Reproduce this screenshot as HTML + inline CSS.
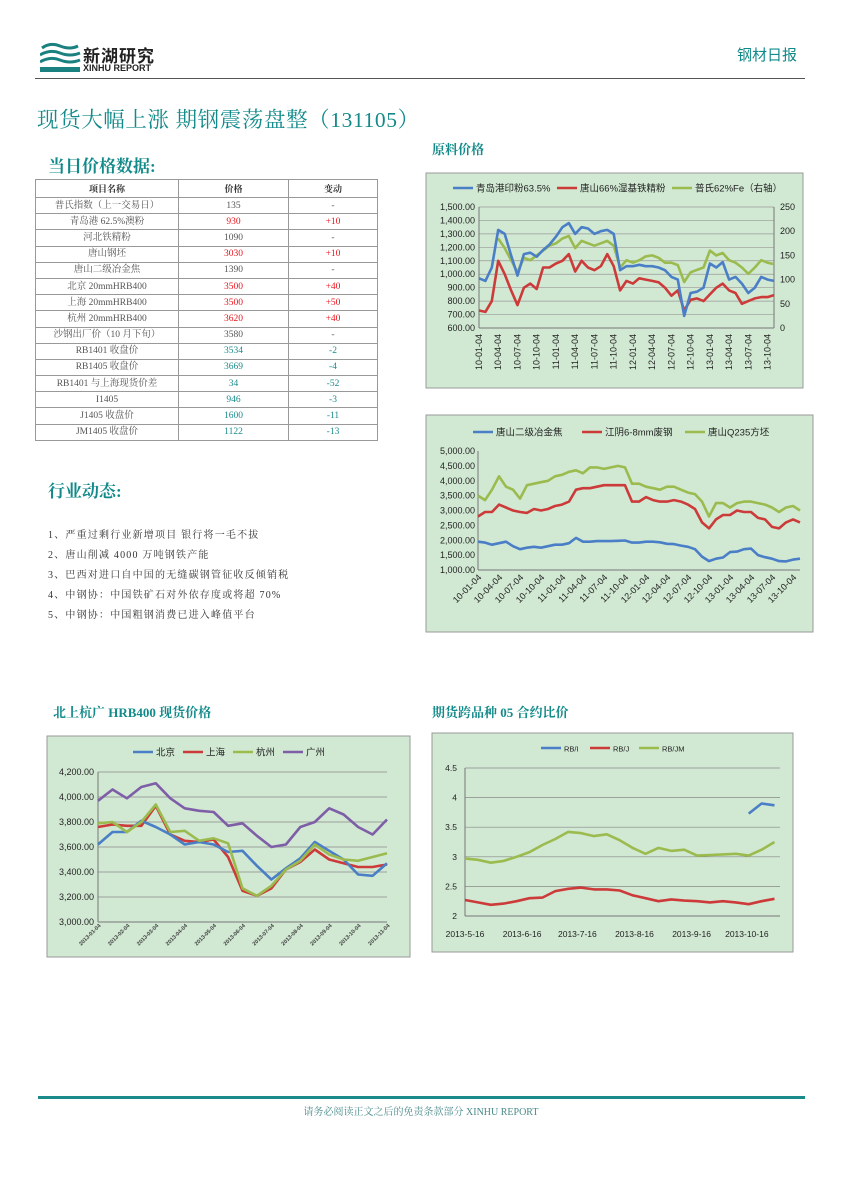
<!DOCTYPE html>
<html><head><meta charset="utf-8">
<style>
body{margin:0;background:#fff;}
#pg{position:relative;width:842px;height:1191px;overflow:hidden;font-family:"Liberation Serif","Noto Serif CJK SC",serif;}
.abs{position:absolute;white-space:nowrap;}
.teal{color:#138a8a;}
table{border-collapse:collapse;position:absolute;left:35px;top:179px;width:343px;font-size:9.5px;}
td{border:1px solid #999;height:15.2px;padding:0;text-align:center;color:#555;line-height:14px;}
td.r{color:#e8141c;} td.g{color:#1a8c8c;}
th{border:1px solid #999;height:15px;font-size:9px;font-weight:bold;color:#333;}
.lst{font-size:10px;letter-spacing:1.2px;color:#333;left:48px;}
</style></head><body>
<div id="pg">
<div class="abs" style="left:40px;top:40px;width:125px;height:36px;">
 <svg width="125" height="36">
  <path d="M2 8 Q10 2 20 6 T38 6" stroke="#1a8080" stroke-width="3" fill="none"/>
  <path d="M0 15 Q10 9 20 13 T40 13" stroke="#1a8080" stroke-width="3" fill="none"/>
  <path d="M0 22 Q10 16 20 20 T40 20" stroke="#1a8080" stroke-width="3" fill="none"/>
  <rect x="0" y="27" width="40" height="5" fill="#1a8080"/>
 </svg>
 <div class="abs" style="left:43px;top:2px;font:bold 17px 'Liberation Sans','Noto Sans CJK SC',sans-serif;color:#222;letter-spacing:1px;">新湖研究</div>
 <div class="abs" style="left:43px;top:23px;font:bold 9px 'Liberation Sans',sans-serif;color:#222;">XINHU REPORT</div>
</div>
<div class="abs teal" style="left:737px;top:44px;font-size:15px;font-family:'Noto Sans CJK SC',sans-serif;">钢材日报</div>
<div class="abs" style="left:35px;top:78px;width:770px;height:1px;background:#555;"></div>
<div class="abs teal" style="left:37px;top:103px;font-size:21.5px;letter-spacing:0.6px;">现货大幅上涨 期钢震荡盘整（131105）</div>
<div class="abs teal" style="left:48px;top:152px;font-size:17px;font-weight:bold;">当日价格数据:</div>
<table>
<tr><th style="width:140px">项目名称</th><th style="width:107px">价格</th><th>变动</th></tr>
<tr><td>普氏指数（上一交易日）</td><td>135</td><td>-</td></tr>
<tr><td>青岛港 62.5%澳粉</td><td class="r">930</td><td class="r">+10</td></tr>
<tr><td>河北铁精粉</td><td>1090</td><td>-</td></tr>
<tr><td>唐山钢坯</td><td class="r">3030</td><td class="r">+10</td></tr>
<tr><td>唐山二级冶金焦</td><td>1390</td><td>-</td></tr>
<tr><td>北京 20mmHRB400</td><td class="r">3500</td><td class="r">+40</td></tr>
<tr><td>上海 20mmHRB400</td><td class="r">3500</td><td class="r">+50</td></tr>
<tr><td>杭州 20mmHRB400</td><td class="r">3620</td><td class="r">+40</td></tr>
<tr><td>沙钢出厂价（10 月下旬）</td><td>3580</td><td>-</td></tr>
<tr><td>RB1401 收盘价</td><td class="g">3534</td><td class="g">-2</td></tr>
<tr><td>RB1405 收盘价</td><td class="g">3669</td><td class="g">-4</td></tr>
<tr><td>RB1401 与上海现货价差</td><td class="g">34</td><td class="g">-52</td></tr>
<tr><td>I1405</td><td class="g">946</td><td class="g">-3</td></tr>
<tr><td>J1405 收盘价</td><td class="g">1600</td><td class="g">-11</td></tr>
<tr><td>JM1405 收盘价</td><td class="g">1122</td><td class="g">-13</td></tr>
</table>
<div class="abs teal" style="left:48px;top:477px;font-size:17px;font-weight:bold;">行业动态:</div>
<div class="abs lst" style="top:526px;">1、严重过剩行业新增项目 银行将一毛不拔</div>
<div class="abs lst" style="top:546px;">2、唐山削减 4000 万吨钢铁产能</div>
<div class="abs lst" style="top:566px;">3、巴西对进口自中国的无缝碳钢管征收反倾销税</div>
<div class="abs lst" style="top:586px;">4、中钢协：中国铁矿石对外依存度或将超 70%</div>
<div class="abs lst" style="top:606px;">5、中钢协：中国粗钢消费已进入峰值平台</div>
<div class="abs teal" style="left:432px;top:139px;font-size:13px;font-weight:bold;">原料价格</div>
<div class="abs teal" style="left:53px;top:702px;font-size:13px;font-weight:bold;">北上杭广 HRB400 现货价格</div>
<div class="abs teal" style="left:432px;top:702px;font-size:13px;font-weight:bold;">期货跨品种 05 合约比价</div>
<div class="abs" style="left:38px;top:1096px;width:767px;height:3px;background:#1a8a8a;"></div>
<div class="abs" style="left:0;width:842px;text-align:center;top:1103px;font-size:10px;color:#4a8a8a;">请务必阅读正文之后的免责条款部分 XINHU REPORT</div>
<svg id="ch" class="abs" style="left:0;top:0" width="842" height="1191"></svg>
</div>
<script>
const c1Labels=["10-01-04","10-04-04","10-07-04","10-10-04","11-01-04","11-04-04","11-07-04","11-10-04","12-01-04","12-04-04","12-07-04","12-10-04","13-01-04","13-04-04","13-07-04","13-10-04"];
const c1Ticks=[600,700,800,900,1000,1100,1200,1300,1400,1500];
const c1RTicks=[0,50,100,150,200,250];
const c1Qingdao=[970,950,1050,1330,1300,1140,990,1150,1160,1130,1180,1220,1280,1350,1380,1300,1350,1340,1300,1320,1330,1300,1030,1060,1060,1070,1060,1060,1050,1030,980,960,690,860,870,900,1080,1050,1090,960,980,930,860,900,980,960,950];
const c1Tangshan=[730,720,800,1100,1000,880,770,900,930,890,1050,1050,1080,1100,1150,1020,1100,1050,1030,1060,1150,1060,880,950,930,970,960,950,940,900,840,880,730,810,820,800,850,900,930,880,860,780,800,820,830,830,845];
const c1Platts=[null,null,null,185,165,140,115,145,140,150,160,170,175,185,190,165,180,175,170,175,180,170,125,140,135,140,148,150,145,135,135,130,95,115,120,125,160,150,155,140,135,125,112,125,140,135,132];
const c2Labels=c1Labels;
const c2Ticks=[1000,1500,2000,2500,3000,3500,4000,4500,5000];
const c2Coke=[1950,1920,1850,1900,1950,1800,1700,1750,1780,1750,1800,1850,1850,1900,2080,1950,1950,1970,1970,1970,1980,1990,1920,1920,1950,1950,1930,1880,1870,1820,1780,1700,1450,1300,1380,1420,1600,1620,1700,1720,1500,1430,1380,1300,1290,1350,1380];
const c2Scrap=[2800,2950,2950,3200,3100,3000,2950,2920,3050,3000,3050,3150,3200,3300,3700,3750,3750,3800,3850,3850,3850,3850,3300,3300,3450,3350,3300,3300,3350,3300,3200,3050,2600,2400,2700,2850,2850,3000,2950,2950,2750,2700,2450,2400,2600,2700,2600];
const c2Billet=[3500,3350,3700,4150,3800,3700,3400,3850,3900,3950,4000,4150,4200,4300,4350,4250,4450,4450,4400,4450,4500,4450,3900,3900,3800,3750,3700,3800,3800,3700,3600,3550,3300,2800,3250,3250,3100,3250,3300,3300,3250,3200,3100,2950,3100,3150,3000];
const c3Labels=["2013-01-04","2013-02-04","2013-03-04","2013-04-04","2013-05-04","2013-06-04","2013-07-04","2013-08-04","2013-09-04","2013-10-04","2013-11-04"];
const c3Ticks=[3000,3200,3400,3600,3800,4000,4200];
const c3Beijing=[3620,3720,3720,3810,3760,3700,3620,3640,3620,3560,3570,3450,3340,3430,3510,3640,3570,3500,3380,3370,3470];
const c3Shanghai=[3760,3780,3770,3770,3930,3700,3650,3640,3660,3520,3250,3210,3270,3420,3480,3580,3500,3470,3440,3440,3460];
const c3Hangzhou=[3790,3800,3720,3800,3940,3720,3730,3650,3670,3630,3270,3210,3290,3420,3490,3620,3540,3500,3490,3520,3550];
const c3Guangzhou=[3970,4060,3990,4080,4110,3990,3910,3890,3880,3770,3790,3690,3600,3620,3760,3800,3910,3860,3760,3700,3820];
const c4Labels=["2013-5-16","2013-6-16","2013-7-16","2013-8-16","2013-9-16","2013-10-16"];
const c4LabelDays=[0,31,61,92,123,153];
const c4Ticks=[2,2.5,3,3.5,4,4.5];
const c4RBI=[null,null,null,null,null,null,null,null,null,null,null,null,null,null,null,null,null,null,null,null,null,null,3.73,3.90,3.87];
const c4RBJ=[2.27,2.23,2.19,2.21,2.25,2.30,2.31,2.42,2.46,2.48,2.45,2.45,2.43,2.35,2.30,2.25,2.28,2.26,2.25,2.23,2.25,2.23,2.20,2.25,2.29];
const c4RBJM=[2.97,2.95,2.90,2.93,3.00,3.08,3.20,3.30,3.42,3.40,3.35,3.38,3.28,3.15,3.05,3.15,3.10,3.12,3.02,3.03,3.04,3.05,3.02,3.12,3.25];

const NS="http://www.w3.org/2000/svg";
const svg=document.getElementById('ch');
function mk(tag,at,parent){const e=document.createElementNS(NS,tag);for(const k in at)e.setAttribute(k,at[k]);(parent||svg).appendChild(e);return e;}
function txt(x,y,s,at){const t=mk('text',Object.assign({x:x,y:y,'font-family':"'Liberation Sans','Noto Sans CJK SC',sans-serif",'font-size':9,fill:'#222'},at||{}));t.textContent=s;return t;}
function path(vals,xf,yf,color,w){let d='',pen=false;vals.forEach((v,i)=>{if(v==null){pen=false;return;}d+=(pen?'L':'M')+xf(i).toFixed(1)+' '+yf(v).toFixed(1)+' ';pen=true;});return mk('path',{d:d,stroke:color,'stroke-width':w||2.6,fill:'none','stroke-linejoin':'round'});}
function fmt(v){return v.toLocaleString('en-US',{minimumFractionDigits:2,maximumFractionDigits:2});}
function legend(items,y){items.forEach(it=>{const l=mk('line',{x1:it.x,y1:y,x2:it.x+20,y2:y,stroke:it.c,'stroke-width':2.5});const t=txt(it.x+23,y+3.5,it.t,{'font-size':it.fs||9.5});});}
const BLUE='#4a7ec6',RED='#cc3b3a',GRN='#9bbb4f',PUR='#7f5ea8';

(function(){
 const bg=mk('rect',{x:426,y:173,width:377,height:215,fill:'#d1e9d3',stroke:'#999'});
 
 const L=479,R=774,T=207,B=328;
 const x=i=>L+i*(R-L)/(c1Qingdao.length-1);
 const y=v=>B-(v-600)/900*(B-T);
 const yr=v=>B-v/250*(B-T);
 c1Ticks.forEach(v=>{if(v>600)mk('line',{x1:L,x2:R,y1:y(v),y2:y(v),stroke:'#999','stroke-width':0.7});txt(L-4,y(v)+3,fmt(v),{'text-anchor':'end','font-size':9});});
 c1RTicks.forEach(v=>txt(R+6,yr(v)+3,String(v),{'font-size':9}));
 mk('line',{x1:L,x2:L,y1:T,y2:B,stroke:'#777'});mk('line',{x1:R,x2:R,y1:T,y2:B,stroke:'#777'});mk('line',{x1:L,x2:R,y1:B,y2:B,stroke:'#777'});
 c1Labels.forEach((s,i)=>{const xx=x(i*3);txt(0,0,s,{'font-size':9,'text-anchor':'end',transform:`translate(${xx+3},${B+6}) rotate(-90)`});});
 const p1=path(c1Platts,x,yr,GRN);
 const p2=path(c1Tangshan,x,y,RED);
 const p3=path(c1Qingdao,x,y,BLUE);
 legend([{x:453,c:BLUE,t:'青岛港印粉63.5%'},{x:557,c:RED,t:'唐山66%湿基铁精粉'},{x:672,c:GRN,t:'普氏62%Fe（右轴）'}],188);
})();
(function(){
 const bg=mk('rect',{x:426,y:415,width:387,height:217,fill:'#d1e9d3',stroke:'#999'});
 
 const L=478,R=800,T=451,B=570;
 const x=i=>L+i*(R-L)/(c2Coke.length-1);
 const y=v=>B-(v-1000)/4000*(B-T);
 c2Ticks.forEach(v=>{txt(L-3,y(v)+3,fmt(v),{'text-anchor':'end','font-size':9});});
 mk('line',{x1:L,x2:L,y1:T,y2:B,stroke:'#777'});mk('line',{x1:L,x2:R,y1:B,y2:B,stroke:'#777'});
 c2Labels.forEach((s,i)=>{const xx=x(i*3);txt(0,0,s,{'font-size':9,'text-anchor':'end',transform:`translate(${xx+4},${B+8}) rotate(-45)`});});
 const a=path(c2Billet,x,y,GRN);
 const b=path(c2Scrap,x,y,RED);
 const c=path(c2Coke,x,y,BLUE);
 legend([{x:473,c:BLUE,t:'唐山二级冶金焦'},{x:582,c:RED,t:'江阴6-8mm废钢'},{x:685,c:GRN,t:'唐山Q235方坯'}],432);
})();
(function(){
 const bg=mk('rect',{x:47,y:736,width:363,height:221,fill:'#d1e9d3',stroke:'#999'});
 
 const L=98,R=387,T=772,B=922;
 const x=i=>L+i*(R-L)/(c3Beijing.length-1);
 const y=v=>B-(v-3000)/1200*(B-T);
 c3Ticks.forEach(v=>{if(v>3000)mk('line',{x1:L,x2:R,y1:y(v),y2:y(v),stroke:'#888','stroke-width':0.7});txt(L-4,y(v)+3,fmt(v),{'text-anchor':'end','font-size':9});});
 mk('line',{x1:L,x2:L,y1:T,y2:B,stroke:'#777'});mk('line',{x1:L,x2:R,y1:B,y2:B,stroke:'#777'});
 c3Labels.forEach((s,i)=>{const xx=x(i*2);txt(0,0,s,{'font-size':5.5,'text-anchor':'end','font-weight':'bold',fill:'#444',transform:`translate(${xx+3},${B+4}) rotate(-45)`});});
 [[c3Guangzhou,PUR,'series-guangzhou'],[c3Shanghai,RED,'series-shanghai'],[c3Beijing,BLUE,'series-beijing'],[c3Hangzhou,GRN,'series-hangzhou']].forEach(s=>{const p=path(s[0],x,y,s[1]);});
 legend([{x:133,c:BLUE,t:'北京'},{x:183,c:RED,t:'上海'},{x:233,c:GRN,t:'杭州'},{x:283,c:PUR,t:'广州'}],752);
})();
(function(){
 const bg=mk('rect',{x:432,y:733,width:361,height:219,fill:'#d1e9d3',stroke:'#999'});
 
 const L=465,R=780,T=768,B=916;
 const x=d=>L+d*(R-L)/171;
 const xi=i=>x(i*7);
 const y=v=>B-(v-2)/2.5*(B-T);
 c4Ticks.forEach(v=>{if(v>2)mk('line',{x1:L,x2:R,y1:y(v),y2:y(v),stroke:'#888','stroke-width':0.7});txt(L-8,y(v)+3,String(v),{'text-anchor':'end','font-size':8.5});});
 mk('line',{x1:L,x2:L,y1:T,y2:B,stroke:'#777'});mk('line',{x1:L,x2:R,y1:B,y2:B,stroke:'#777'});
 c4Labels.forEach((s,i)=>{txt(x(c4LabelDays[i]),B+21,s,{'font-size':8.5,'text-anchor':'middle'});});
 [[c4RBJM,GRN,'series-rb-jm'],[c4RBJ,RED,'series-rb-j'],[c4RBI,BLUE,'series-rb-i']].forEach(s=>{const p=path(s[0],xi,y,s[1]);});
 legend([{x:541,c:BLUE,t:'RB/I',fs:7.5},{x:590,c:RED,t:'RB/J',fs:7.5},{x:639,c:GRN,t:'RB/JM',fs:7.5}],748);
})();
</script>
</body></html>
